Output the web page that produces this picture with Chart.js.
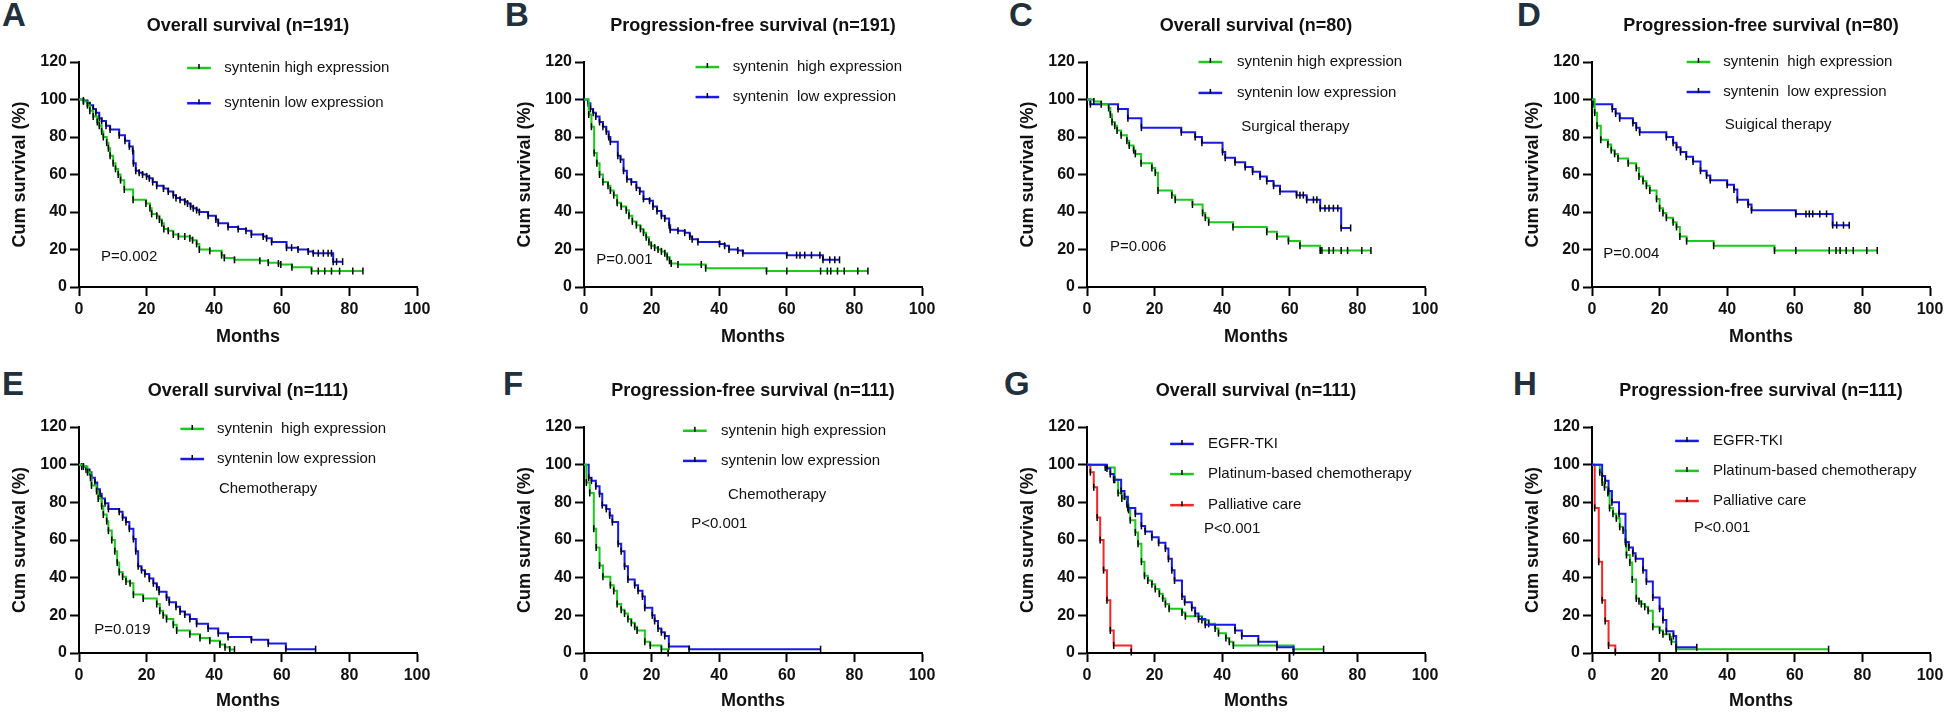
<!DOCTYPE html>
<html>
<head>
<meta charset="utf-8">
<script src="https://cdn.jsdelivr.net/npm/chart.js@4.4.1/dist/chart.umd.min.js"></script>
<style>
  html, body { margin: 0; padding: 0; background: #fff; overflow: hidden; }
  body { position: relative; width: 1946px; height: 712px; }
  canvas { position: absolute; }
  .letter { position: absolute; font: bold 33px 'Liberation Sans', Arial, sans-serif; color: #22303c; line-height: 1; }
</style>
</head>
<body>
<div class="letter" style="left:2px;top:-2px">A</div>
<div class="letter" style="left:505px;top:-2px">B</div>
<div class="letter" style="left:1009px;top:-2px">C</div>
<div class="letter" style="left:1517px;top:-2px">D</div>
<div class="letter" style="left:2px;top:367px">E</div>
<div class="letter" style="left:503px;top:367px">F</div>
<div class="letter" style="left:1004px;top:367px">G</div>
<div class="letter" style="left:1513px;top:367px">H</div>
<canvas id="cA" width="438" height="352" style="left:-1px;top:0"></canvas>
<canvas id="cB" width="438" height="352" style="left:504px;top:0"></canvas>
<canvas id="cC" width="438" height="352" style="left:1007px;top:0"></canvas>
<canvas id="cD" width="438" height="352" style="left:1512px;top:0"></canvas>
<canvas id="cE" width="438" height="360" style="left:-1px;top:352px"></canvas>
<canvas id="cF" width="438" height="360" style="left:504px;top:352px"></canvas>
<canvas id="cG" width="438" height="360" style="left:1007px;top:352px"></canvas>
<canvas id="cH" width="438" height="360" style="left:1512px;top:352px"></canvas>
<script>
Chart.defaults.font.family = "'Liberation Sans', Arial, sans-serif";
Chart.defaults.color = '#111';

const GREEN = '#1ec81e';
const BLUE = '#1a1ae6';
const RED = '#f02828';

const X_TICKS = [0, 20, 40, 60, 80, 100];
const Y_TICKS = [0, 20, 40, 60, 80, 100, 120];

// A - overall survival, all patients
const A_HIGH_T = [0,1.3,2.5,3.2,4.2,5.4,6.0,6.7,7.2,8.2,8.7,9.2,10.1,10.8,11.6,12.3,13.4,16.0,19.8,21.0,21.5,23.0,23.8,24.5,25.1,26.4,27.9,29.4,31.3,32.8,33.6,34.8,35.6,38.7,42.2,43.0,46.0,53.5,56.0,59.0,59.7,63.0,68.8,70.8,72.7,74.7,77.1,81.0,84.0];
const A_HIGH_S = [100,99,97,94,91,88,86,83,80,77,74,70,66,63,60,57,52,46.5,44.5,42,39,38,36,34,31,30,28,27,27,26,25,23,20,19.3,17,15.5,14.5,14,13,12.5,12,10.5,8.5,8.5,8.5,8.5,8.5,8.5,8.5];
const A_LOW_T = [0,1.3,2.5,3.2,4.2,5.0,6.0,6.7,8.0,9.2,11.9,13.6,14.9,15.9,16.1,16.8,17.8,18.8,20.0,20.8,21.8,23.0,25.0,26.4,27.9,28.7,29.9,31.3,32.1,33.0,33.8,34.8,35.6,38.2,40.5,41.2,44.1,47.1,49.4,51.0,54.5,55.5,57.0,61.4,62.9,64.8,67.8,69.3,70.8,72.3,73.7,74.7,75.2,76.2,78.0];
const A_LOW_S = [100,99.5,98,97,95,93,90,88.5,86,84,81,78,75,72.5,66,62,61,60,59,58,56,54,52.5,51,49,47.5,46.5,45.5,44.5,43,42,41,40,38,36,34,32,31,30,28,27,26,24,21,21,20,19,18,18,18,18,18,13.5,13.5,13.5];

// B - progression-free survival, all patients
const B_HIGH_T = [0,1.4,2.2,3.0,3.8,4.6,5.6,7.1,7.8,8.8,9.8,11.0,12.5,13.3,14.3,15.5,16.7,17.6,18.4,19.2,19.9,20.9,21.9,22.9,23.9,24.6,25.3,25.8,27.8,34.7,36.0,54.0,60.0,70.0,72.0,73.0,75.0,77.0,81.0,84.0];
const B_HIGH_S = [100,92,85.5,71.5,66,60,56,54,51.5,49,45,43,41,38,35,33,31,29,26.5,24,22,21,20,19,18,16,14,12.5,12,12,10,8.5,8.5,8.5,8.5,8.5,8.5,8.5,8.5,8.5];
const B_LOW_T = [0,1.2,1.9,2.7,3.5,4.6,5.6,6.6,7.3,7.8,10.0,10.8,11.7,12.7,14.0,15.5,16.5,17.6,19.4,20.4,21.6,22.9,23.9,25.2,25.5,27.8,29.8,31.3,32.0,33.7,40.1,41.6,42.9,45.5,47.0,60.0,62.9,63.9,65.3,67.3,69.8,70.7,72.7,74.2,75.6];
const B_LOW_S = [100,98,95,93,91,88,85.5,83,80,77.5,70,68,62,57.5,56,53,51,47,46,43,40.5,38,36.5,33,30.5,30,29,27,25.5,24,23,22,20,19.5,18,17,17,17,17,17,17,14.5,14.5,14.5,14.5];

// C - overall survival, surgical therapy
const C_HIGH_T = [0,2.0,4.2,6.4,6.9,7.4,8.2,8.9,10.1,11.8,12.5,13.8,14.3,16.0,19.2,20.2,21.0,25.1,26.1,31.2,34.2,35.0,36.0,43.2,53.2,56.2,59.6,63.0,69.0,69.5,71.6,72.9,75.2,77.1,81.3,84.0];
const C_HIGH_S = [100,99,97.5,95.5,92,88,86,83.5,81,78,75.5,73,71,66,63.5,61,51.5,49,46.5,44,39.5,37,34.5,32,29.5,27,24.5,22,19.5,19.5,19.5,19.5,19.5,19.5,19.5,19.5];
const C_LOW_T = [0,1.0,9.2,12.1,16.1,27.9,32.0,34.0,40.1,40.9,43.8,46.8,49.0,51.2,53.2,55.2,57.1,62.0,63.0,64.0,65.0,67.0,68.0,69.0,70.4,71.6,72.9,74.2,75.2,78.0];
const C_LOW_S = [100,97.5,95,90,85,82.5,80,77,72,69,66.5,64,61.5,59,56.5,54,51,49,49,49,46.5,46.5,46.5,42,42,42,42,42,31.5,31.5];

// D - progression-free survival, surgical therapy
const D_HIGH_T = [0,0.8,1.5,2.6,4.7,5.7,6.7,7.7,10.7,13.1,13.9,15.1,16.1,17.1,19.1,20.0,21.0,22.0,24.0,25.0,26.0,28.0,36.0,54.0,60.3,70.2,72.2,73.4,75.2,77.3,81.3,84.4];
const D_HIGH_S = [100,93,86,78.5,76,73,71,68.5,66,63.5,59,56.5,54,51.5,47,42,39.5,37,34.5,32,27,24.5,22,19.5,19.5,19.5,19.5,19.5,19.5,19.5,19.5,19.5];
const D_LOW_T = [0,0.6,6.0,7.0,8.2,12.1,13.1,14.1,22.0,24.0,25.0,26.2,27.9,29.9,32.1,33.9,35.0,40.0,42.0,43.0,46.2,47.2,60.3,63.3,64.3,65.3,67.4,69.4,71.2,72.4,74.4,76.1];
const D_LOW_S = [100,97.5,95,92.5,90,87.5,85,82.5,80,77,74.5,72,69.5,67,62,59.5,57,54.5,52,46.5,44,41,39,39,39,39,39,39,33,33,33,33];

// E - overall survival, chemotherapy
const E_HIGH_T = [0,1.3,2.5,3.4,3.7,5.2,5.7,6.7,7.2,8.2,8.7,9.7,10.6,11.3,11.9,12.9,13.9,15.1,16.1,19.0,23.0,23.9,24.9,25.9,27.9,28.9,32.8,35.8,38.7,41.7,43.2,44.6,46.0];
const E_HIGH_S = [100,99,96,93,89,86,82,78,73.5,70,65,60,54,48,43,40.5,38,37,31,29,26,22.5,20,18,15,12,10,8,6.5,4.5,3,1.8,1.8];
const E_LOW_T = [0,0.8,2.1,3.1,3.7,4.7,5.4,6.2,6.7,7.7,8.7,11.9,12.9,13.9,14.9,16.1,16.8,17.5,18.5,19.5,20.8,22.0,23.0,23.7,25.9,26.7,28.7,29.9,31.3,32.8,34.8,38.2,41.2,44.1,51.0,56.0,61.2,70.0];
const E_LOW_S = [100,99,97.5,96,93,90.5,87,84.5,82,79.5,76.5,75,72,69.5,66,60.5,54,46,44,42,39.5,37,35,32.5,29.5,27,24.5,22,20.5,18,15.5,13,10.5,8.5,7,5,2,2];

// F - progression-free survival, chemotherapy
const F_HIGH_T = [0,0.7,1.7,2.9,3.6,4.6,5.6,7.8,8.8,9.8,11.0,12.0,13.0,14.0,15.0,15.7,18.0,19.6,22.9,24.9];
const F_HIGH_S = [100,90.5,85,66,56,46.5,40.5,36,33,26,23,21,18,16,14,12,6,4,2,0];
const F_LOW_T = [0,1.4,2.2,3.5,4.6,5.4,6.6,7.6,8.4,10.1,11.0,12.0,13.0,15.0,16.0,17.3,18.0,20.2,20.9,21.9,22.9,23.9,25.1,31.1,70.0];
const F_LOW_S = [100,93,91.5,88.5,84.5,78.5,76.5,73,69.5,58,54,46,39,36,33,30,24,20,17,13,11,9,3.5,2,2];

// G - overall survival by treatment
const G_TKI_T = [0,5.9,6.9,7.9,10.1,11.1,12.1,14.3,16.1,17.2,19.2,21.2,23.2,24.1,25.1,25.9,28.1,28.9,31.0,32.0,33.0,35.0,43.8,45.8,50.7,56.2,61.1];
const G_TKI_S = [100,98,95,92,86,83,77,74,67.5,64.5,61.5,58.5,55.5,50,44,38.5,30,27,24,21,18,15,12,9,6,3,0.5];
const G_PLAT_T = [0,5.4,8.2,9.2,10.3,11.8,12.3,12.8,14.3,15.1,16.1,17.0,18.0,19.2,20.2,21.4,22.4,23.2,24.3,28.1,29.1,34.0,36.0,37.9,38.9,41.1,42.1,43.3,61.1,70.0];
const G_PLAT_S = [100,98.5,92,85,82,79,76,70.5,64,58,48.5,41,38.5,36.5,34,31.5,29,26,23.5,21.5,19.5,17.5,15.5,13,10.5,8,6,4,2,2];
const G_PALL_T = [0,1.0,2.0,3.0,3.9,4.9,5.9,6.9,7.9,13.1];
const G_PALL_S = [100,96,88,72,60,44,28,12,4,0.5];

// H - progression-free survival by treatment
const H_TKI_T = [0,3.0,3.9,4.9,5.9,8.0,9.9,10.9,12.1,12.9,15.1,16.1,18.0,20.0,21.0,22.0,24.1,24.9,31.0];
const H_TKI_S = [100,94,91.5,86,80,74,59,56,53,50,44,38,29.5,23.5,17.5,11.5,9,3,3];
const H_PLAT_T = [0,2.3,3.0,3.7,4.7,5.2,6.2,7.2,8.2,9.2,10.0,10.2,11.2,11.9,13.1,13.9,14.6,15.6,16.6,18.0,20.0,21.0,23.0,23.5,24.9,70.0];
const H_PLAT_S = [100,96,90.5,88,85,77,74,71.5,67,65,58,52,48,39,29,27.5,26,24.5,22.5,14,12,10,8.5,6,2,2];
const H_PALL_T = [0,0.8,2.0,3.0,3.9,4.9,6.9];
const H_PALL_S = [100,77,48.5,28,17,4,0.5];

const SYN_HIGH = 'syntenin high expression';
const SYN_LOW = 'syntenin low expression';
const SYN_HIGH2 = 'syntenin  high expression';
const SYN_LOW2 = 'syntenin  low expression';

function pts(t, s) {
  return t.map((x, i) => ({ x: x, y: s[i] }));
}

function curve(label, color, t, s) {
  return {
    label: label,
    data: pts(t, s),
    borderColor: color,
    backgroundColor: color,
    borderWidth: 2,
    stepped: 'before',
    clip: false,
    pointStyle: 'line',
    rotation: 90,
    pointRadius: (ctx) => ctx.dataIndex === 0 ? 0 : 3.5,
    pointBorderColor: '#000',
    pointBorderWidth: 1.5,
    pointHoverRadius: 0,
  };
}

// legend drawn inside the plot, plus free text notes and the panel title
const panelDecor = {
  id: 'panelDecor',
  afterDraw(chart, args, opts) {
    const { ctx, chartArea, scales } = chart;
    const xs = scales.x, ys = scales.y;
    ctx.save();
    // title
    ctx.fillStyle = '#111';
    ctx.font = "bold 18px 'Liberation Sans', Arial, sans-serif";
    ctx.textAlign = 'center';
    ctx.textBaseline = 'middle';
    ctx.fillText(opts.title, (chartArea.left + chartArea.right) / 2, chartArea.top - 36);
    // legend
    const lg = opts.legend;
    ctx.font = "15px 'Liberation Sans', Arial, sans-serif";
    ctx.textAlign = 'left';
    chart.data.datasets.forEach((ds, i) => {
      const y = ys.getPixelForValue(lg.y[i]);
      const x1 = xs.getPixelForValue(lg.x1);
      const x2 = xs.getPixelForValue(lg.x2);
      ctx.strokeStyle = ds.borderColor;
      ctx.lineWidth = 2.5;
      ctx.beginPath();
      ctx.moveTo(x1, y);
      ctx.lineTo(x2, y);
      ctx.stroke();
      ctx.strokeStyle = '#000';
      ctx.lineWidth = 1.5;
      ctx.beginPath();
      ctx.moveTo((x1 + x2) / 2, y - 4);
      ctx.lineTo((x1 + x2) / 2, y + 1);
      ctx.stroke();
      ctx.fillStyle = '#111';
      ctx.fillText(ds.label, xs.getPixelForValue(lg.tx), y);
    });
    // notes
    (opts.notes || []).forEach((n) => {
      ctx.fillText(n.text, xs.getPixelForValue(n.x), ys.getPixelForValue(n.y));
    });
    ctx.restore();
  }
};

function makeChart(id, row, title, datasets, legend, notes) {
  const xH = row === 1 ? 65 : 59;
  const padTop = row === 1 ? 62 : 75;
  const xTitlePad = row === 1 ? 4 : 0;
  return new Chart(document.getElementById(id), {
    type: 'line',
    data: { datasets: datasets },
    options: {
      responsive: false,
      animation: false,
      events: [],
      layout: { padding: { top: padTop, right: 20, bottom: 0, left: 0 } },
      plugins: {
        legend: { display: false },
        tooltip: { enabled: false },
        panelDecor: { title: title, legend: legend, notes: notes },
      },
      scales: {
        x: {
          type: 'linear',
          min: 0,
          max: 100,
          afterFit: (s) => { s.height = xH; },
          afterBuildTicks: (s) => { s.ticks = X_TICKS.map((v) => ({ value: v })); },
          grid: { drawOnChartArea: false, drawTicks: true, tickLength: 9, tickWidth: 2, tickColor: '#000' },
          border: { color: '#000', width: 2 },
          ticks: { color: '#111', padding: 4, font: { size: 16, weight: 'bold' } },
          title: { display: true, text: 'Months', color: '#111', font: { size: 18, weight: 'bold' }, padding: { top: 0, bottom: xTitlePad } },
        },
        y: {
          type: 'linear',
          min: 0,
          max: 120,
          afterFit: (s) => { s.width = 80; },
          afterBuildTicks: (s) => { s.ticks = Y_TICKS.map((v) => ({ value: v })); },
          grid: { drawOnChartArea: false, drawTicks: true, tickLength: 9, tickWidth: 2, tickColor: '#000' },
          border: { color: '#000', width: 2 },
          ticks: { color: '#111', padding: 3, font: { size: 16, weight: 'bold' } },
          title: { display: true, text: 'Cum survival (%)', color: '#111', font: { size: 18, weight: 'bold' }, padding: { top: 10, bottom: 0 } },
        }
      }
    },
    plugins: [panelDecor]
  });
}

makeChart('cA', 1, 'Overall survival (n=191)',
  [curve(SYN_HIGH, GREEN, A_HIGH_T, A_HIGH_S), curve(SYN_LOW, BLUE, A_LOW_T, A_LOW_S)],
  { x1: 32, x2: 39, tx: 43, y: [116.8, 98] },
  [{ text: 'P=0.002', x: 6.5, y: 16 }]);

makeChart('cB', 1, 'Progression-free survival (n=191)',
  [curve(SYN_HIGH2, GREEN, B_HIGH_T, B_HIGH_S), curve(SYN_LOW2, BLUE, B_LOW_T, B_LOW_S)],
  { x1: 33, x2: 40, tx: 44, y: [117.3, 101.3] },
  [{ text: 'P=0.001', x: 3.6, y: 14.4 }]);

makeChart('cC', 1, 'Overall survival (n=80)',
  [curve(SYN_HIGH, GREEN, C_HIGH_T, C_HIGH_S), curve(SYN_LOW, BLUE, C_LOW_T, C_LOW_S)],
  { x1: 33, x2: 40, tx: 44.4, y: [120, 103.5] },
  [{ text: 'Surgical therapy', x: 45.6, y: 85.3 }, { text: 'P=0.006', x: 6.8, y: 21.3 }]);

makeChart('cD', 1, 'Progression-free survival (n=80)',
  [curve(SYN_HIGH2, GREEN, D_HIGH_T, D_HIGH_S), curve(SYN_LOW2, BLUE, D_LOW_T, D_LOW_S)],
  { x1: 28, x2: 35, tx: 38.8, y: [120, 104] },
  [{ text: 'Suigical therapy', x: 39.3, y: 86.4 }, { text: 'P=0.004', x: 3.3, y: 17.6 }]);

makeChart('cE', 2, 'Overall survival (n=111)',
  [curve(SYN_HIGH2, GREEN, E_HIGH_T, E_HIGH_S), curve(SYN_LOW, BLUE, E_LOW_T, E_LOW_S)],
  { x1: 30, x2: 37, tx: 40.8, y: [119, 103] },
  [{ text: 'Chemotherapy', x: 41.4, y: 87 }, { text: 'P=0.019', x: 4.5, y: 12.2 }]);

makeChart('cF', 2, 'Progression-free survival (n=111)',
  [curve(SYN_HIGH, GREEN, F_HIGH_T, F_HIGH_S), curve(SYN_LOW, BLUE, F_LOW_T, F_LOW_S)],
  { x1: 29.3, x2: 36.3, tx: 40.5, y: [118, 102] },
  [{ text: 'Chemotherapy', x: 42.6, y: 84 }, { text: 'P<0.001', x: 31.7, y: 68.5 }]);

makeChart('cG', 2, 'Overall survival (n=111)',
  [curve('EGFR-TKI', BLUE, G_TKI_T, G_TKI_S), curve('Platinum-based chemotherapy', GREEN, G_PLAT_T, G_PLAT_S), curve('Palliative care', RED, G_PALL_T, G_PALL_S)],
  { x1: 24.6, x2: 31.6, tx: 35.8, y: [111, 95, 78.5] },
  [{ text: 'P<0.001', x: 34.6, y: 66 }]);

makeChart('cH', 2, 'Progression-free survival (n=111)',
  [curve('EGFR-TKI', BLUE, H_TKI_T, H_TKI_S), curve('Platinum-based chemotherapy', GREEN, H_PLAT_T, H_PLAT_S), curve('Palliative care', RED, H_PALL_T, H_PALL_S)],
  { x1: 24.6, x2: 31.6, tx: 35.8, y: [112.6, 96.7, 80.7] },
  [{ text: 'P<0.001', x: 30.2, y: 66.4 }]);
</script>
</body>
</html>
